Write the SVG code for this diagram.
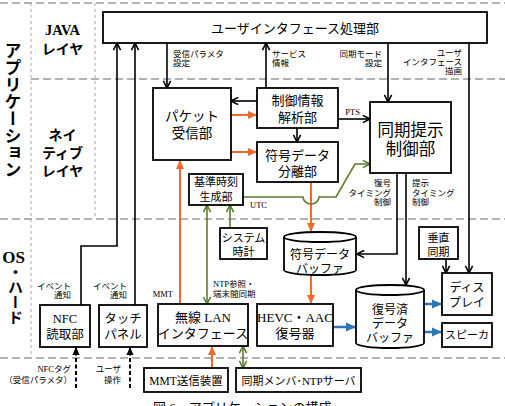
<svg xmlns="http://www.w3.org/2000/svg" width="505" height="406" viewBox="0 0 505 406">
<style>
.box{fill:#fff;stroke:#000;stroke-width:1.8}
.t{font-family:"Liberation Serif","Noto Sans CJK JP",sans-serif;fill:#000;text-anchor:middle}
.s{font-size:8.5px}
.r{text-anchor:end}
.l{text-anchor:start}
.hd{font-family:"Liberation Serif","Noto Sans CJK JP",sans-serif;font-weight:bold;fill:#000;text-anchor:middle}
.v{writing-mode:vertical-rl;text-anchor:start}
.gd{stroke:#999;stroke-width:1.5;stroke-dasharray:8 4;fill:none}
.gv{stroke:#aaa;stroke-width:1;stroke-dasharray:3 3;fill:none}
.k{stroke:#000;stroke-width:1.6;fill:none}
.kd{stroke:#000;stroke-width:2;stroke-dasharray:4 2.5;fill:none}
.o{stroke:#ef6a2b;stroke-width:2;fill:none}
.g{stroke:#5b7b32;stroke-width:1.6;fill:none}
.b{stroke:#2e75b6;stroke-width:2.5;fill:none}
</style>
<defs>
<marker id="ak" viewBox="0 0 10 10" refX="9.5" refY="5" markerWidth="9" markerHeight="9" markerUnits="userSpaceOnUse" orient="auto-start-reverse"><path d="M1.5,1 L9.5,5 L1.5,9" fill="none" stroke="#000" stroke-width="1.8"/></marker>
<marker id="akf" viewBox="0 0 10 10" refX="10" refY="5" markerWidth="8" markerHeight="8" markerUnits="userSpaceOnUse" orient="auto-start-reverse"><path d="M0,0.5 L10,5 L0,9.5 z" fill="#000"/></marker>
<marker id="ao" viewBox="0 0 10 10" refX="10" refY="5" markerWidth="9" markerHeight="9" markerUnits="userSpaceOnUse" orient="auto-start-reverse"><path d="M0,0.5 L10,5 L0,9.5 z" fill="#ef6a2b"/></marker>
<marker id="ag" viewBox="0 0 10 10" refX="9.5" refY="5" markerWidth="9" markerHeight="9" markerUnits="userSpaceOnUse" orient="auto-start-reverse"><path d="M1.5,1 L9.5,5 L1.5,9" fill="none" stroke="#5b7b32" stroke-width="1.8"/></marker>
<marker id="ab" viewBox="0 0 10 10" refX="10" refY="5" markerWidth="10" markerHeight="10" markerUnits="userSpaceOnUse" orient="auto-start-reverse"><path d="M0,0.5 L10,5 L0,9.5 z" fill="#2e75b6"/></marker>
</defs>
<rect x="0" y="0" width="505" height="406" fill="#fff"/>

<g id="grid">
<path class="gd" d="M0,3 H505 M31,79 H505 M0,219 H505 M0,358 H505"/>
<path class="gv" d="M31,3 V358 M95,3 V219"/>
</g>

<g id="layer-labels">
<text class="hd v" x="11" y="42" font-size="17">アプリケーション</text>
<text class="hd" x="13.5" y="263" font-size="17">OS</text>
<text class="hd v" x="14" y="265" font-size="15">・ハード</text>
<text class="hd" x="62.5" y="35" font-size="14.5">JAVA</text>
<text class="hd" x="62.5" y="54" font-size="14">レイヤ</text>
<text class="hd" x="62.5" y="140" font-size="14">ネイ</text>
<text class="hd" x="62.5" y="158" font-size="14">ティブ</text>
<text class="hd" x="62.5" y="176" font-size="14">レイヤ</text>
</g>

<g id="connectors">
<path class="k" d="M167,43 V88" marker-end="url(#ak)"/>
<path class="k" d="M266,88 V43" marker-end="url(#ak)"/>
<path class="k" d="M388,43 V102" marker-end="url(#ak)"/>
<path class="k" d="M469,43 V273" marker-end="url(#ak)"/>
<path class="k" d="M81,305 V246 H117 V43" marker-end="url(#ak)"/>
<path class="k" d="M135,305 V43" marker-end="url(#ak)"/>
<path class="k" d="M257,101 H231" marker-end="url(#ak)"/>
<path class="o" d="M231,115 H257" marker-end="url(#ao)"/>
<path class="o" d="M231,152 H257" marker-end="url(#ao)"/>
<path class="k" d="M297,128 V142" marker-end="url(#ak)"/>
<path class="k" d="M338,119 H370" marker-end="url(#ak)"/>
<path class="o" d="M311,182 V232" marker-end="url(#ao)"/>
<path class="g" d="M243,197 H303 A8,7 0 0 0 319,197 H336 L355,164 H370" marker-end="url(#ag)"/>
<path class="o" d="M180,304 V160" marker-end="url(#ao)"/>
<path class="g" d="M207,205 V304" marker-start="url(#ag)" marker-end="url(#ag)"/>
<path class="g" d="M230,228 V205" marker-end="url(#ag)"/>
<path class="o" d="M311,275 V304" marker-end="url(#ao)"/>
<path class="b" d="M333,327 H356" marker-end="url(#ab)"/>
<path class="k" d="M397,173 V254 H357" marker-end="url(#ak)"/>
<path class="k" d="M406,173 V285" marker-end="url(#ak)"/>
<path class="b" d="M424,304 H442" marker-end="url(#ab)"/>
<path class="b" d="M424,332 H442" marker-end="url(#ab)"/>
<path class="k" d="M446,259 V273" marker-end="url(#ak)"/>
<path class="o" d="M212,368 V346" marker-end="url(#ao)"/>
<path class="g" d="M243,346 V368" marker-start="url(#ag)" marker-end="url(#ag)"/>
<path class="kd" d="M76,388 V347" marker-end="url(#akf)"/>
<path class="kd" d="M130,388 V347" marker-end="url(#akf)"/>
</g>

<g id="connector-labels">
<text class="t s l" x="173" y="57">受信パラメタ</text>
<text class="t s l" x="173" y="66">設定</text>
<text class="t s l" x="272" y="57">サービス</text>
<text class="t s l" x="272" y="66">情報</text>
<text class="t s r" x="382" y="57">同期モード</text>
<text class="t s r" x="382" y="66">設定</text>
<text class="t s r" x="462" y="56">ユーザ</text>
<text class="t s r" x="462" y="65">インタフェース</text>
<text class="t s r" x="462" y="74">描画</text>
<text class="t r" x="360" y="115" font-size="8.5">PTS</text>
<text class="t l" x="250" y="208" font-size="8.5">UTC</text>
<text class="t s r" x="391" y="186">復号</text>
<text class="t s r" x="391" y="196">タイミング</text>
<text class="t s r" x="391" y="205">制御</text>
<text class="t s l" x="412" y="186">提示</text>
<text class="t s l" x="412" y="196">タイミング</text>
<text class="t s l" x="412" y="205">制御</text>
<text class="t s l" x="213" y="287">NTP参照・</text>
<text class="t s l" x="213" y="297">端末間同期</text>
<text class="t r" x="173" y="297" font-size="8.5">MMT</text>
<text class="t s r" x="71" y="289">イベント</text>
<text class="t s r" x="71" y="298">通知</text>
<text class="t s r" x="127" y="289">イベント</text>
<text class="t s r" x="127" y="298">通知</text>
<text class="t s r" x="71" y="372">NFCタグ</text>
<text class="t s r" x="72" y="383">（受信パラメタ）</text>
<text class="t s r" x="121" y="372">ユーザ</text>
<text class="t s r" x="121" y="383">操作</text>
</g>

<g id="ui-proc"><rect class="box" x="103" y="12" width="384" height="31"/><text class="t" x="295" y="33" font-size="13">ユーザインタフェース処理部</text></g>
<g id="packet"><rect class="box" x="153" y="88" width="78" height="72"/><text class="t" x="192" y="121" font-size="13.5">パケット</text><text class="t" x="192" y="138" font-size="13.5">受信部</text></g>
<g id="ctrl-analysis"><rect class="box" x="257" y="88" width="81" height="40"/><text class="t" x="297.5" y="105" font-size="13">制御情報</text><text class="t" x="297.5" y="122" font-size="13">解析部</text></g>
<g id="separator"><rect class="box" x="257" y="142" width="81" height="40"/><text class="t" x="297.5" y="160" font-size="13">符号データ</text><text class="t" x="297.5" y="176" font-size="13">分離部</text></g>
<g id="sync-ctrl"><rect class="box" x="370" y="102" width="81" height="71"/><text class="t" x="410.5" y="136" font-size="16.5">同期提示</text><text class="t" x="410.5" y="155" font-size="16.5">制御部</text></g>
<g id="ref-clock"><rect class="box" x="189" y="174" width="54" height="31"/><text class="t" x="216" y="186" font-size="11">基準時刻</text><text class="t" x="216" y="201" font-size="11">生成部</text></g>
<g id="sys-clock"><rect class="box" x="220" y="228" width="47" height="31"/><text class="t" x="243.5" y="242" font-size="11">システム</text><text class="t" x="243.5" y="256" font-size="11">時計</text></g>
<g id="coded-buffer"><path class="box" d="M284,237 V270 A36,5 0 0 0 356,270 V237"/><ellipse class="box" cx="320" cy="237" rx="36" ry="5"/><text class="t" x="320" y="259" font-size="12">符号データ</text><text class="t" x="320" y="273" font-size="12">バッファ</text></g>
<g id="vsync"><rect class="box" x="419" y="227" width="39" height="32"/><text class="t" x="438.5" y="242" font-size="11">垂直</text><text class="t" x="438.5" y="256" font-size="11">同期</text></g>
<g id="display"><rect class="box" x="442" y="273" width="50" height="42"/><text class="t" x="467" y="292" font-size="12">ディス</text><text class="t" x="467" y="307" font-size="12">プレイ</text></g>
<g id="decoded-buffer"><path class="box" d="M356,290 V343 A34,5 0 0 0 424,343 V290"/><ellipse class="box" cx="390" cy="290" rx="34" ry="5"/><text class="t" x="390" y="314" font-size="12">復号済</text><text class="t" x="390" y="328" font-size="12">データ</text><text class="t" x="390" y="342" font-size="12">バッファ</text></g>
<g id="speaker"><rect class="box" x="442" y="323" width="50" height="24"/><text class="t" x="467" y="339" font-size="11">スピーカ</text></g>
<g id="nfc"><rect class="box" x="40" y="305" width="50" height="42"/><text class="t" x="65" y="323" font-size="12.5">NFC</text><text class="t" x="65" y="339" font-size="12.5">読取部</text></g>
<g id="touch"><rect class="box" x="99" y="305" width="48" height="42"/><text class="t" x="123" y="323" font-size="12.5">タッチ</text><text class="t" x="123" y="339" font-size="12.5">パネル</text></g>
<g id="wlan"><rect class="box" x="158" y="304" width="90" height="42"/><text class="t" x="203" y="322" font-size="13">無線 LAN</text><text class="t" x="203" y="338" font-size="13">インタフェース</text></g>
<g id="decoder"><rect class="box" x="257" y="304" width="76" height="42"/><text class="t" x="295" y="322" font-size="13">HEVC・AAC</text><text class="t" x="295" y="338" font-size="13">復号器</text></g>
<g id="mmt-sender"><rect class="box" x="144" y="368" width="84" height="24"/><text class="t" x="186" y="385" font-size="11.5">MMT送信装置</text></g>
<g id="ntp-server"><rect class="box" x="236" y="368" width="125" height="24"/><text class="t" x="298.5" y="385" font-size="11">同期メンバ･NTPサーバ</text></g>

<text class="t l" x="153" y="412" font-size="13">図 6　アプリケーションの構成</text>
</svg>
